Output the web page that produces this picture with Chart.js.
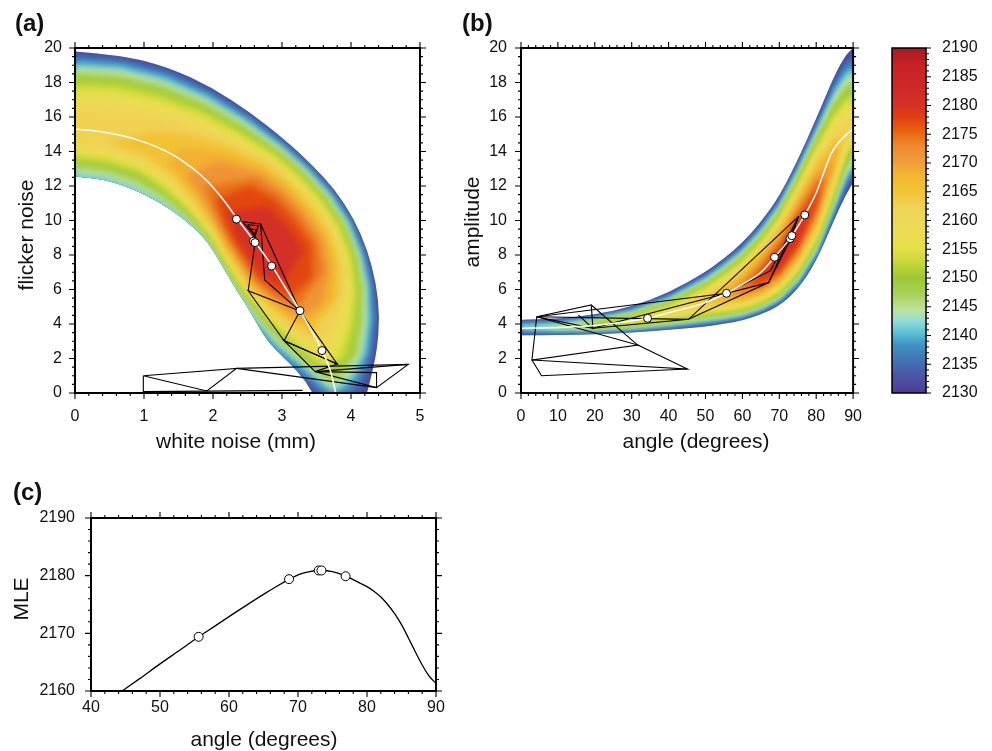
<!DOCTYPE html>
<html lang="en">
<head>
<meta charset="UTF-8">
<title>MLE surfaces</title>
<script src="https://cdn.jsdelivr.net/npm/chart.js"></script>
<style>
  body { margin: 0; background: #fff; }
  #page { position: relative; width: 992px; height: 751px; overflow: hidden; }
  canvas { position: absolute; }
</style>
</head>
<body>
<div id="page">
  <canvas id="chartA" width="440" height="465" style="left:0;top:0"></canvas>
  <canvas id="chartB" width="426" height="465" style="left:450px;top:0"></canvas>
  <canvas id="chartBar" width="122" height="465" style="left:870px;top:0"></canvas>
  <canvas id="chartC" width="460" height="281" style="left:0;top:470px"></canvas>
</div>
<script>
// colour scale of the likelihood (MLE)
const mleStops  = [2130, 2133, 2136, 2138.5, 2140.5, 2142.5, 2144.5, 2147, 2150, 2152.5, 2155, 2158, 2162, 2165, 2168, 2170.5, 2173, 2175.5, 2178, 2180, 2183, 2187, 2190];
const mleColors = ['#4b3d96', '#4a56a6', '#4177b6', '#3f95c4', '#5cc2d4', '#92dcd8', '#bfe29c', '#a9d25e', '#9ec832', '#c2d63a',
                   '#e6e044', '#ecdc55', '#efd458', '#f2c436', '#f3b530', '#f09a3c', '#ee8a2e', '#e8620e', '#e04010', '#d63224',
                   '#cf2828', '#c82226', '#a51a20'];
const contourLevels = [2134, 2137, 2140, 2143, 2146, 2149, 2152, 2155, 2158, 2161, 2164, 2167, 2170, 2173, 2176, 2179];

// (a) white noise / flicker noise: cross-sections of the likelihood band
const aOuter = [[0,19.80],[0.688,19.58],[1.354,18.89],[1.974,17.74],[2.542,16.27],[3.065,14.61],[3.430,13.25],[3.769,11.78],
                [4.043,10.11],[4.240,8.27],[4.365,6.35],[4.416,4.40],[4.377,2.46],[4.291,0.90],[4.232,0]];
const aInner = [[0,12.55],[0.435,12.38],[0.847,11.81],[1.230,11.05],[1.578,10.10],[1.882,8.97],[2.054,7.93],[2.204,6.89],
                [2.353,5.88],[2.514,4.90],[2.656,3.87],[2.826,2.82],[3.107,1.75],[3.343,0.70],[3.442,0]];
const aRidge = [[0,14.61],[0.507,14.44],[0.999,13.93],[1.456,13.08],[1.866,11.95],[2.208,10.52],[2.429,9.38],[2.644,8.26],
                [2.851,7.13],[3.061,5.97],[3.248,4.73],[3.417,3.41],[3.588,2.02],[3.705,0.78],[3.754,0]];
const aPeak       = [2163, 2164, 2165, 2168, 2173, 2179, 2181.5, 2182, 2182, 2178, 2172, 2164, 2157, 2148, 2140];
const aOuterValue = [2130, 2130, 2130, 2130, 2130, 2130, 2130, 2130, 2130, 2130, 2130, 2130, 2130, 2130, 2130];
const aInnerValue = [2141, 2141, 2141, 2141, 2141, 2141, 2141, 2141, 2141, 2140, 2139, 2137, 2135, 2133, 2132];
const aOuterShape = [2.5, 2.5, 2.5, 2.5, 2.5, 2.8, 3, 3, 3, 2.8, 2.5, 2.2, 2, 1.5, 1.2];
const aInnerShape = [1, 1, 1, 1.2, 1.5, 1.8, 2, 2, 2, 1.8, 1.5, 1.3, 1.2, 1, 1];
const aWhiteLine = [[0,15.3],[0.45,15.1],[0.94,14.63],[1.42,13.8],[1.9,12.35],[2.15,11.2],[2.35,10.1],[2.6,8.8],
                    [2.85,7.4],[3.05,6.1],[3.26,4.77],[3.58,2.46],[3.7,1.3],[3.78,0]];
const aCircles = [[2.34,10.08],[2.59,8.8],[2.61,8.72],[2.85,7.36],[3.26,4.77],[3.58,2.46]];
const aSimplex = [
  [[0.99,1.0],[0.99,0.08],[3.3,0.15]],
  [[0.99,1.0],[1.91,0.12],[2.34,1.43],[0.99,1.0]],
  [[2.34,1.43],[4.83,1.66],[4.37,0.31],[2.34,1.43]],
  [[3.48,1.24],[4.37,1.18],[4.37,0.31],[3.48,1.24]],
  [[3.48,1.24],[4.83,1.66]],
  [[3.48,1.24],[3.80,1.68],[3.03,3.03],[3.48,1.24]],
  [[3.03,3.03],[3.80,1.68],[3.26,4.75],[3.03,3.03]],
  [[3.03,3.03],[2.51,5.93],[3.26,4.75]],
  [[2.51,5.93],[2.62,9.0],[2.43,9.93],[2.69,9.80],[3.26,4.75]],
  [[2.69,9.80],[2.75,6.55],[3.26,4.75]],
  [[2.50,9.75],[2.66,9.70],[2.60,9.20],[2.50,9.75]],
  [[2.55,9.50],[2.64,9.45],[2.60,9.00],[2.55,9.50]]
];

// (b) angle / amplitude: vertical cross-sections of the band
const bAngle = [0, 10, 20, 30, 40, 50, 55, 60, 65, 70, 75, 80, 85, 88, 90];
const bUpper = [4.25, 4.3, 4.55, 5.0, 5.8, 7.0, 7.8, 8.7, 9.9, 11.4, 13.5, 15.9, 18.45, 19.6, 20.0];
const bLower = [3.35, 3.35, 3.4, 3.5, 3.65, 3.85, 4.0, 4.2, 4.55, 5.05, 6.0, 7.6, 10.1, 11.5, 12.2];
const bRidge = [3.8, 3.82, 3.95, 4.2, 4.65, 5.3, 5.6, 6.0, 6.6, 7.6, 9.2, 11.2, 13.6, 15.2, 15.6];
const bPeak  = [2143, 2146, 2151, 2157, 2161, 2166, 2169, 2174, 2179, 2182, 2182, 2178, 2169, 2163, 2161];
const bEdgeValue = [2130, 2130, 2130, 2130, 2130, 2130, 2130, 2130, 2130, 2130, 2130, 2130, 2130, 2130, 2130];
const bShape     = [1.3, 1.3, 1.3, 1.3, 1.3, 1.4, 1.5, 1.5, 1.5, 1.5, 1.5, 1.5, 1.4, 1.3, 1.3];
const bWhiteLine = [[0,3.75],[10,3.8],[20,3.92],[30,4.17],[34.3,4.33],[40,4.65],[50,5.25],[55.7,5.78],[60,6.3],[65,7.0],
                    [68.7,7.87],[73.2,9.05],[76.9,10.32],[80,11.6],[82,12.75],[84,13.85],[86,14.5],[88,14.95],[90,15.3]];
const bCircles = [[34.3,4.33],[55.7,5.78],[68.7,7.87],[72.9,8.95],[73.4,9.12],[76.9,10.32]];
const bSimplex = [
  [[4.26,4.42],[19.04,5.10],[19.48,3.75],[4.26,4.42]],
  [[4.26,4.42],[31.65,2.78],[2.96,1.91],[4.26,4.42]],
  [[19.04,5.10],[31.65,2.78],[45.1,1.39],[2.96,1.91]],
  [[2.96,1.91],[5.57,1.0],[45.1,1.39]],
  [[15.57,4.52],[19.48,3.75]],
  [[4.26,4.42],[45.4,4.27]],
  [[19.48,3.75],[45.4,4.27],[75.3,10.25]],
  [[45.4,4.27],[67.1,6.4],[75.3,10.25]],
  [[19.48,3.75],[55.7,5.78],[67.6,7.09],[75.3,10.25]],
  [[4.26,4.42],[55.7,5.78]],
  [[55.7,5.78],[67.1,6.4]],
  [[67.1,6.4],[73.0,8.9],[75.0,10.1]]
];

// (c) MLE along the best-fit line
const cAngle = [44.5, 47, 50, 53, 55.6, 58, 60, 62.5, 65, 67, 68.7, 70, 71.5, 73.3, 75, 76.9, 78.5, 80, 81, 82, 83, 84, 85, 86, 87, 88, 89, 90];
const cMLE   = [2160, 2162.1, 2164.7, 2167.2, 2169.4, 2171.3, 2172.9, 2174.85, 2176.75, 2178.2, 2179.35, 2180.13, 2180.67, 2180.9, 2180.7,
                2179.95, 2179.0, 2178.1, 2177.3, 2176.3, 2175.0, 2173.4, 2171.5, 2169.2, 2166.8, 2164.5, 2162.6, 2161.3];
const cPointAngle = [55.6, 68.7, 73.0, 73.4, 76.9];
const cPointMLE   = [2169.4, 2179.4, 2180.9, 2180.9, 2179.9];

const FONT = '"Liberation Sans", Arial, Helvetica, sans-serif';
Chart.defaults.font.family = FONT;
Chart.defaults.font.size = 16;
Chart.defaults.color = '#111';

const hexRgb = h => [parseInt(h.slice(1, 3), 16), parseInt(h.slice(3, 5), 16), parseInt(h.slice(5, 7), 16)];
function mleColor(v) {
  if (v <= mleStops[0]) return mleColors[0];
  for (let i = 1; i < mleStops.length; i++) {
    if (v <= mleStops[i]) {
      const t = (v - mleStops[i - 1]) / (mleStops[i] - mleStops[i - 1]);
      const a = hexRgb(mleColors[i - 1]), b = hexRgb(mleColors[i]);
      return 'rgb(' + a.map((c, k) => Math.round(c + t * (b[k] - c))).join(',') + ')';
    }
  }
  return mleColors[mleColors.length - 1];
}

const pts = arr => arr.map(p => ({x: p[0], y: p[1]}));
const zip = (xs, ys) => xs.map((x, i) => ({x: x, y: ys[i]}));

function smoothTo(ctx, p, move) {
  if (move) ctx.moveTo(p[0][0], p[0][1]); else ctx.lineTo(p[0][0], p[0][1]);
  for (let i = 1; i < p.length - 1; i++) {
    ctx.quadraticCurveTo(p[i][0], p[i][1], (p[i][0] + p[i + 1][0]) / 2, (p[i][1] + p[i + 1][1]) / 2);
  }
  ctx.lineTo(p[p.length - 1][0], p[p.length - 1][1]);
}

// likelihood band: contour polygons between the ridge and the two edges
function fieldPlugin(f) {
  return {
    id: 'field',
    beforeDatasetsDraw(chart) {
      const {ctx, chartArea: ca, scales: {x, y}} = chart;
      const px = p => [x.getPixelForValue(p[0]), y.getPixelForValue(p[1])];
      const E1 = f.edge1.map(px), E2 = f.edge2.map(px), R = f.ridge.map(px);
      const n = R.length;
      const frac = (L, p, e, k) => L <= e ? 1.25 : Math.pow((p - L) / (p - e), 1 / k);
      const mix = (a, b, t) => [a[0] + t * (b[0] - a[0]), a[1] + t * (b[1] - a[1])];
      ctx.save();
      ctx.beginPath();
      ctx.rect(ca.left, ca.top, ca.right - ca.left, ca.bottom - ca.top);
      ctx.clip();
      ctx.beginPath();
      smoothTo(ctx, E1, true);
      smoothTo(ctx, E2.slice().reverse(), false);
      ctx.closePath();
      ctx.clip();
      ctx.fillStyle = mleColor(2132);
      ctx.fillRect(ca.left, ca.top, ca.right - ca.left, ca.bottom - ca.top);
      ctx.filter = 'blur(' + f.blur + 'px)';
      for (const L of contourLevels) {
        const inside = [];
        for (let i = 0; i < n; i++) if (f.peak[i] > L) inside.push(i);
        if (!inside.length) continue;
        const a = inside[0], b = inside[inside.length - 1];
        const s1 = [], s2 = [];
        for (let i = a; i <= b; i++) {
          s1.push(mix(R[i], E1[i], frac(L, f.peak[i], f.value1[i], f.shape1[i])));
          s2.push(mix(R[i], E2[i], frac(L, f.peak[i], f.value2[i], f.shape2[i])));
        }
        const tip = (j, i) => mix(R[j], R[i], (L - f.peak[j]) / (f.peak[i] - f.peak[j]));
        const poly = [];
        if (a > 0) poly.push(tip(a - 1, a));
        poly.push(...s1);
        if (b < n - 1) poly.push(tip(b + 1, b));
        poly.push(...s2.reverse());
        ctx.beginPath();
        poly.forEach((p, k) => k ? ctx.lineTo(p[0], p[1]) : ctx.moveTo(p[0], p[1]));
        ctx.closePath();
        ctx.fillStyle = mleColor(L + 1.5);
        ctx.fill();
      }
      ctx.restore();
    }
  };
}

// GMT-like frame with major/minor ticks outside
function framePlugin(opts) {
  return {
    id: 'frame',
    afterDraw(chart) {
      const {ctx, chartArea: a, scales} = chart;
      ctx.save();
      ctx.strokeStyle = '#000';
      ctx.lineWidth = 1.1;
      ctx.beginPath();
      for (const t of opts.ticks) {
        const s = scales[t.axis];
        const n = Math.round((s.max - s.min) / t.step);
        for (let k = 0; k <= n; k++) {
          const p = s.getPixelForValue(s.min + k * t.step);
          for (const side of t.sides) {
            if (side === 'bottom') { ctx.moveTo(p, a.bottom); ctx.lineTo(p, a.bottom + t.len); }
            if (side === 'top') { ctx.moveTo(p, a.top); ctx.lineTo(p, a.top - t.len); }
            if (side === 'left') { ctx.moveTo(a.left, p); ctx.lineTo(a.left - t.len, p); }
            if (side === 'right') { ctx.moveTo(a.right, p); ctx.lineTo(a.right + t.len, p); }
          }
        }
      }
      ctx.stroke();
      ctx.lineWidth = opts.width;
      ctx.strokeRect(a.left, a.top, a.right - a.left, a.bottom - a.top);
      ctx.restore();
    }
  };
}

function textPlugin(items) {
  return {
    id: 'texts',
    afterDraw(chart) {
      const ctx = chart.ctx;
      for (const it of items) {
        ctx.save();
        ctx.font = it.font || '21px ' + FONT;
        ctx.fillStyle = '#111';
        ctx.textAlign = it.align || 'center';
        ctx.textBaseline = 'alphabetic';
        ctx.translate(it.x, it.y);
        if (it.rot) ctx.rotate(it.rot);
        ctx.fillText(it.text, 0, 0);
        ctx.restore();
      }
    }
  };
}

const plain = v => String(v);
const noGrid = {display: false, drawTicks: false, tickLength: 0};
const baseOpts = {
  responsive: false, animation: false, devicePixelRatio: 1,
  plugins: {legend: {display: false}, tooltip: {enabled: false}},
  events: []
};
const circleSet = data => ({data, showLine: false, pointRadius: 4, pointBackgroundColor: '#fff',
  pointBorderColor: '#000', pointBorderWidth: 1, order: 0});
const whiteSet = data => ({data, showLine: true, borderColor: '#fff', borderWidth: 1.5, pointRadius: 0,
  cubicInterpolationMode: 'monotone', order: 1});
const simplexSets = list => list.map(p => ({data: pts(p), showLine: true, borderColor: '#000', borderWidth: 1.1,
  pointRadius: 0, tension: 0, order: 2}));

// ---- (a) ----
new Chart(document.getElementById('chartA'), {
  type: 'scatter',
  data: {datasets: [circleSet(pts(aCircles)), whiteSet(pts(aWhiteLine)), ...simplexSets(aSimplex)]},
  options: Object.assign({}, baseOpts, {
    layout: {padding: {top: 48, right: 20, left: 0, bottom: 0}},
    scales: {
      x: {type: 'linear', min: 0, max: 5, grid: noGrid, border: {display: false},
          ticks: {stepSize: 1, padding: 14, autoSkip: false, maxRotation: 0, callback: plain},
          afterFit: s => { s.height = 72; }},
      y: {type: 'linear', min: 0, max: 20, grid: noGrid, border: {display: false},
          ticks: {stepSize: 2, padding: 13, autoSkip: false, callback: plain},
          afterFit: s => { s.width = 75; }}
    }
  }),
  plugins: [
    fieldPlugin({edge1: aOuter, edge2: aInner, ridge: aRidge, peak: aPeak, value1: aOuterValue, value2: aInnerValue,
                 shape1: aOuterShape, shape2: aInnerShape, blur: 3}),
    framePlugin({width: 2, ticks: [
      {axis: 'x', step: 1, len: 6, sides: ['bottom', 'top']}, {axis: 'x', step: 0.2, len: 3, sides: ['bottom', 'top']},
      {axis: 'y', step: 2, len: 6, sides: ['left', 'right']}, {axis: 'y', step: 0.5, len: 3, sides: ['left', 'right']}]}),
    textPlugin([
      {text: '(a)', x: 15, y: 31, align: 'left', font: 'bold 24px ' + FONT},
      {text: 'white noise (mm)', x: 236, y: 448},
      {text: 'flicker noise', x: 33, y: 235, rot: -Math.PI / 2}])
  ]
});

// ---- (b) ----
new Chart(document.getElementById('chartB'), {
  type: 'scatter',
  data: {datasets: [circleSet(pts(bCircles)), whiteSet(pts(bWhiteLine)), ...simplexSets(bSimplex)]},
  options: Object.assign({}, baseOpts, {
    layout: {padding: {top: 48, right: 10, left: 0, bottom: 0}},
    scales: {
      x: {type: 'linear', min: 0, max: 90, grid: noGrid, border: {display: false},
          ticks: {stepSize: 10, padding: 14, autoSkip: false, maxRotation: 0, callback: plain},
          afterFit: s => { s.height = 72; }},
      y: {type: 'linear', min: 0, max: 20, grid: noGrid, border: {display: false},
          ticks: {stepSize: 2, padding: 14, autoSkip: false, callback: plain},
          afterFit: s => { s.width = 71; }}
    }
  }),
  plugins: [
    fieldPlugin({edge1: bAngle.map((a, i) => [a, bUpper[i]]), edge2: bAngle.map((a, i) => [a, bLower[i]]),
                 ridge: bAngle.map((a, i) => [a, bRidge[i]]), peak: bPeak, value1: bEdgeValue, value2: bEdgeValue,
                 shape1: bShape, shape2: bShape, blur: 2}),
    framePlugin({width: 2, ticks: [
      {axis: 'x', step: 10, len: 6, sides: ['bottom', 'top']}, {axis: 'x', step: 2, len: 3, sides: ['bottom', 'top']},
      {axis: 'y', step: 2, len: 6, sides: ['left', 'right']}, {axis: 'y', step: 0.5, len: 3, sides: ['left', 'right']}]}),
    textPlugin([
      {text: '(b)', x: 12, y: 31, align: 'left', font: 'bold 24px ' + FONT},
      {text: 'angle (degrees)', x: 246, y: 448},
      {text: 'amplitude', x: 29, y: 222, rot: -Math.PI / 2}])
  ]
});

// ---- colour bar ----
new Chart(document.getElementById('chartBar'), {
  type: 'bar',
  data: {labels: [''], datasets: [{
    data: [[mleStops[0], mleStops[mleStops.length - 1]]],
    borderWidth: 0, barPercentage: 1, categoryPercentage: 1,
    backgroundColor: c => {
      const ch = c.chart;
      if (!ch.chartArea) return mleColors[0];
      const ys = ch.scales.y;
      const lo = mleStops[0], hi = mleStops[mleStops.length - 1];
      const g = ch.ctx.createLinearGradient(0, ys.getPixelForValue(lo), 0, ys.getPixelForValue(hi));
      mleStops.forEach((v, i) => g.addColorStop((v - lo) / (hi - lo), mleColors[i]));
      return g;
    }
  }]},
  options: Object.assign({}, baseOpts, {
    layout: {padding: {top: 48, right: 0, left: 22, bottom: 72}},
    scales: {
      x: {display: false},
      y: {position: 'right', min: 2130, max: 2190, grid: noGrid, border: {display: false},
          ticks: {stepSize: 5, padding: 16, autoSkip: false, callback: plain},
          afterFit: s => { s.width = 66; }}
    }
  }),
  plugins: [framePlugin({width: 1.5, ticks: [
    {axis: 'y', step: 5, len: 5, sides: ['right']}, {axis: 'y', step: 1, len: 3, sides: ['right']}]})]
});

// ---- (c) ----
new Chart(document.getElementById('chartC'), {
  type: 'scatter',
  data: {datasets: [
    {data: zip(cPointAngle, cPointMLE), showLine: false, pointRadius: 4.5, pointBackgroundColor: '#fff',
     pointBorderColor: '#000', pointBorderWidth: 1, order: 0},
    {data: zip(cAngle, cMLE), showLine: true, borderColor: '#000', borderWidth: 1.3, pointRadius: 0,
     cubicInterpolationMode: 'monotone', order: 1}
  ]},
  options: Object.assign({}, baseOpts, {
    layout: {padding: {top: 48, right: 24, left: 0, bottom: 0}},
    scales: {
      x: {type: 'linear', min: 40, max: 90, grid: noGrid, border: {display: false},
          ticks: {stepSize: 10, padding: 7, autoSkip: false, maxRotation: 0, callback: plain},
          afterFit: s => { s.height = 60; }},
      y: {type: 'linear', min: 2160, max: 2190, grid: noGrid, border: {display: false},
          ticks: {stepSize: 10, padding: 16, autoSkip: false, callback: plain},
          afterFit: s => { s.width = 91; }}
    }
  }),
  plugins: [
    framePlugin({width: 2, ticks: [
      {axis: 'x', step: 10, len: 6, sides: ['bottom', 'top']}, {axis: 'x', step: 2, len: 3, sides: ['bottom', 'top']},
      {axis: 'y', step: 10, len: 6, sides: ['left', 'right']}, {axis: 'y', step: 2, len: 3, sides: ['left', 'right']}]}),
    textPlugin([
      {text: '(c)', x: 13, y: 30, align: 'left', font: 'bold 24px ' + FONT},
      {text: 'angle (degrees)', x: 264, y: 276},
      {text: 'MLE', x: 28, y: 129, rot: -Math.PI / 2}])
  ]
});
</script>
</body>
</html>
